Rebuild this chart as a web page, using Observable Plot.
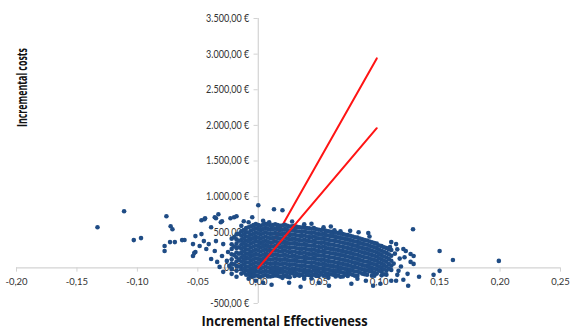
<!DOCTYPE html>
<html><head><meta charset="utf-8">
<script src="https://cdn.jsdelivr.net/npm/d3@7"></script>
<script src="https://cdn.jsdelivr.net/npm/@observablehq/plot@0.6"></script>
<style>body{margin:0;background:#fff}svg{display:block}</style>
</head><body><div id="chart"></div>
<script>
const xTicks = [-0.20, -0.15, -0.10, -0.05, 0.00, 0.05, 0.10, 0.15, 0.20, 0.25];
const yTicks = [-500, 0, 500, 1000, 1500, 2000, 2500, 3000, 3500];
const xTitle = "Incremental Effectiveness";
const yTitle = "Incremental costs";
const wtpThresholds = [20000, 30000];
const lineEndEffect = 0.098;

// dense core of the cloud, column by column (effectiveness, list of costs)
const coreX = [-0.022,-0.018,-0.014,-0.010,-0.006,-0.002,0.002,0.006,0.010,0.014,0.018,0.022,0.026,0.030,0.034,0.038,0.042,0.046,0.050,0.054,0.058,0.062,0.066,0.070,0.074,0.078,0.082,0.086,0.090,0.094,0.098,0.102,0.106,0.110];
const coreY = [
 [410,330,265,190,120,60,-10],
 [470,400,340,280,215,150,90,25,-40],
 [515,450,390,330,270,210,150,90,30,-20,-80],
 [560,500,440,380,320,260,200,140,80,20,-35,-95],
 [585,525,465,405,345,285,225,165,105,45,-15,-60,-115],
 [615,555,495,435,375,315,255,195,135,75,15,-45,-105],
 [590,530,470,410,350,290,230,170,110,50,-10,-65,-125],
 [620,560,500,440,380,320,260,200,140,80,20,-40,-100],
 [595,535,475,415,355,295,235,175,115,55,-5,-60,-120],
 [610,550,490,430,370,310,250,190,130,70,10,-45,-105],
 [590,530,470,410,350,290,230,170,110,50,-10,-60,-120],
 [605,545,485,425,365,305,245,185,125,65,5,-50,-110],
 [580,520,460,400,340,280,220,160,100,40,-20,-70,-130],
 [590,530,470,410,350,290,230,170,110,50,-10,-55,-115],
 [570,510,450,390,330,270,210,150,90,30,-30,-90],
 [575,515,455,395,335,275,215,155,95,35,-25,-65,-125],
 [555,495,435,375,315,255,195,135,75,15,-40,-100],
 [560,500,440,380,320,260,200,140,80,20,-35,-95],
 [535,475,415,355,295,235,175,115,55,-5,-55,-115],
 [540,480,420,360,300,240,180,120,60,0,-50,-110],
 [515,455,395,335,275,215,155,95,35,-25,-85,-140],
 [505,445,385,325,265,205,145,85,25,-35,-95],
 [490,430,370,310,250,190,130,70,10,-45,-105],
 [475,415,355,295,235,175,115,55,-5,-65,-120],
 [460,400,340,280,220,160,100,40,-20,-60,-115],
 [440,380,320,260,200,140,80,20,-35,-95],
 [425,365,305,245,185,125,65,5,-50,-110],
 [400,340,280,220,160,100,40,-20,-80],
 [385,325,265,205,145,85,25,-35,-95],
 [360,300,240,180,120,60,0,-55,-110],
 [340,280,220,160,100,40,-20,-80],
 [305,240,180,120,60,0,-50,-105],
 [280,210,145,85,20,-40,-95],
 [250,170,100,30,-30]
];
// in-between columns of the core
const midX = [-0.020,-0.016,-0.012,-0.008,-0.004,0.000,0.004,0.008,0.012,0.016,0.020,0.024,0.028,0.032,0.036,0.040,0.044,0.048,0.052,0.056,0.060,0.064,0.068,0.072,0.076,0.080,0.084,0.088,0.092,0.096,0.100,0.104,0.108];
const midY = [
 [430,300,180,50],
 [480,380,290,200,110,20],
 [530,470,410,350,290,230,170,110,50,-10,-65],
 [570,495,435,375,315,255,195,135,75,15,-45,-95],
 [600,540,480,420,360,300,240,180,120,60,0,-60,-120],
 [600,545,485,425,365,305,245,185,125,65,5,-55,-115],
 [605,545,485,425,365,305,245,185,125,65,5,-55,-110],
 [605,545,485,425,365,305,245,185,125,65,5,-55,-115],
 [600,540,480,420,360,300,240,180,120,60,0,-60,-115],
 [600,540,480,420,360,300,240,180,120,60,0,-55,-110],
 [595,535,475,415,355,295,235,175,115,55,-5,-60,-120],
 [590,530,470,410,350,290,230,170,110,50,-10,-70,-125],
 [585,525,465,405,345,285,225,165,105,45,-15,-75],
 [575,515,455,395,335,275,215,155,95,35,-25,-85],
 [565,505,445,385,325,265,205,145,85,25,-35,-95],
 [560,500,440,380,320,260,200,140,80,20,-40,-95],
 [550,490,430,370,310,250,190,130,70,10,-50,-105],
 [540,480,420,360,300,240,180,120,60,0,-60,-110],
 [530,470,410,350,290,230,170,110,50,-10,-70],
 [520,460,400,340,280,220,160,100,40,-20,-75],
 [505,445,385,325,265,205,145,85,25,-35,-90],
 [495,435,375,315,255,195,135,75,15,-45,-100],
 [480,420,360,300,240,180,120,60,0,-60],
 [465,405,345,285,225,165,105,45,-15,-75],
 [450,390,330,270,210,150,90,30,-30,-85],
 [430,370,310,250,190,130,70,10,-50],
 [410,350,290,230,170,110,50,-10,-65],
 [390,330,270,210,150,90,30,-30,-80],
 [370,310,250,190,130,70,10,-45],
 [350,290,230,170,110,50,-10,-70],
 [315,255,195,135,75,15,-40],
 [290,225,160,100,40,-20],
 [260,190,125,55,-10]
];
// scattered simulations around the core
const scattered = [
 [-0.133,571],[-0.111,794],[-0.103,390],[-0.097,418],[-0.076,724],[-0.0725,585],[-0.071,543],[-0.0775,306],[-0.0775,237],[-0.073,362],[-0.069,362],[-0.063,390],[-0.061,392],[-0.054,334],[-0.054,167],[-0.052,223],[-0.047,669],[-0.044,697],[-0.035,697],[-0.033,752],[-0.030,655],[-0.018,724],[0.000,878],[0.013,822],[0.020,808],[0.009,641],[-0.0445,683],[-0.036,710],[-0.031,641],[-0.023,697],[-0.020,710],[-0.012,655],[-0.005,710],[-0.052,446],[-0.047,474],[-0.039,571],[-0.045,376],[-0.0485,306],[-0.053,209],[-0.041,334],[-0.035,376],[-0.029,334],[-0.036,237],[-0.030,167],[-0.025,223],[-0.029,-56],[-0.024,28],[-0.043,265],[-0.039,125],[-0.034,84],[-0.026,98],[-0.022,-14],[-0.032,14],[-0.018,-125],[-0.008,-153],[-0.022,-84],
 [0.011,585],[0.017,571],[0.038,613],[0.054,571],[0.063,529],[0.068,515],[0.083,501],[0.091,488],[0.128,543],[0.109,293],[0.114,334],[0.122,237],[0.126,195],[0.1285,167],[0.126,84],[0.1285,56],[0.1235,-84],[0.116,-42],[0.124,-251],[0.114,-181],[0.110,362],[0.120,265],[0.150,237],[0.161,111],[0.199,98],[0.150,-42],[0.145,-98],[0.133,-125],[0.120,-167],
 [0.015,-84],[0.021,-111],[0.027,-56],[0.034,-111],[0.041,-84],[0.048,-111],[0.062,-84],[0.068,-125],[0.038,-153],[0.056,-111],[0.082,-153],[0.089,-181],[0.101,-223],[0.110,-181],[0.115,-98],[0.004,-209],[-0.002,-181],[0.011,-237],[0.0255,-209],[0.035,-265],[0.050,-209],[0.0585,-251],[0.077,-223],[0.095,-251],
 [-0.008,640],[0.004,660],[0.028,650],[0.044,620],[0.060,580],[0.076,520],[0.092,440],[-0.014,590],
 [-0.004,-100],[0.008,-120],[0.020,-140],[0.032,-100],[0.044,-150],[0.052,-90],[0.064,-120],[0.072,-95],[0.080,-110],[0.088,-90],[0.096,-110],[0.104,-90],
 [0.113,200],[0.117,130],[0.112,60],[0.118,20],[0.121,150],[0.115,260]
];

const points = coreX.flatMap((x, i) => coreY[i].map(y => [x, y]))
  .concat(midX.flatMap((x, i) => midY[i].map(y => [x, y])))
  .concat(scattered);
const wtpLines = wtpThresholds.map(l => [{x: 0, y: 0, l}, {x: lineEndEffect, y: l * lineEndEffect, l}]);

const loc = d3.formatLocale({decimal: ",", thousands: ".", grouping: [3], currency: ["", " €"], minus: "-"});
const fmtY = loc.format("$,.2f");
const fmtX = loc.format(".2f");

const axisColor = "#d3d3d3";
const plot = Plot.plot({
  width: 571, height: 331,
  marginLeft: 16, marginRight: 11, marginTop: 18, marginBottom: 28,
  x: {domain: [-0.2, 0.25], axis: null},
  y: {domain: [-500, 3500], axis: null},
  style: {fontFamily: "Lato, 'Open Sans', sans-serif", background: "#fff"},
  marks: [
    Plot.ruleY([0], {x1: -0.2, x2: 0.25, stroke: axisColor, strokeWidth: 1.2}),
    Plot.ruleX([0], {y1: -500, y2: 3500, stroke: axisColor, strokeWidth: 1.2}),
    Plot.ruleX(xTicks, {x: d => d, y1: 0, y2: -60, stroke: axisColor}),
    Plot.ruleY(yTicks, {y: d => d, x1: -0.0035, x2: 0, stroke: axisColor}),
    Plot.text(yTicks, {x: 0, y: d => d, text: d => fmtY(d), textAnchor: "end", dx: -9, fontSize: 10.5, fill: "#333", className: "ylab"}),
    Plot.text(xTicks, {x: d => d, y: 0, text: d => fmtX(d), dy: 14, fontSize: 9.5, fill: "#333"}),
    Plot.line(wtpLines[1], {x: "x", y: "y", stroke: "#ff1414", strokeWidth: 2}),
    Plot.dot(points, {x: d => d[0], y: d => d[1], r: 2.3, fill: "#1f4c85", stroke: null}),
    Plot.line(wtpLines[0], {x: "x", y: "y", stroke: "#ff1414", strokeWidth: 2}),
    Plot.text([xTitle], {frameAnchor: "bottom", dy: 22, dx: -4, fontSize: 14, fontWeight: "bold", fill: "#111", fontFamily: "'Open Sans', sans-serif"}),
    Plot.text([yTitle], {frameAnchor: "left", rotate: -90, dx: 6, dy: -34, fontSize: 14, fontWeight: "bold", fill: "#111", fontFamily: "'Open Sans', sans-serif"})
  ]
});
document.getElementById("chart").appendChild(plot);
d3.select(plot).selectAll("text").each(function() {
  const t = this.textContent;
  if (t === yTitle) { this.setAttribute("textLength", 79); this.setAttribute("lengthAdjust", "spacingAndGlyphs"); }
  else if (t === xTitle) { this.setAttribute("textLength", 166); this.setAttribute("lengthAdjust", "spacingAndGlyphs"); }
  else if (t.includes("€")) {
    const w = this.getComputedTextLength();
    if (w > 0) { this.setAttribute("textLength", (w * 0.86).toFixed(1)); this.setAttribute("lengthAdjust", "spacingAndGlyphs"); }
  }
});
</script></body></html>
